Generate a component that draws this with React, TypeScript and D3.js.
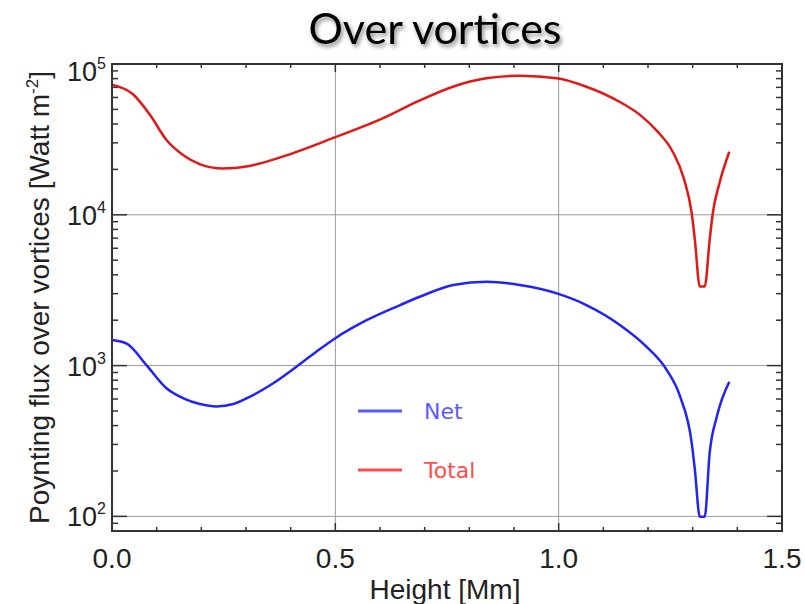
import { useEffect, useRef } from 'react';
import * as d3 from 'd3';

// heights in Mm
const TOTAL_H = [0, 0.047, 0.085, 0.122, 0.159, 0.196, 0.248, 0.308, 0.382, 0.5, 0.606, 0.688, 0.763, 0.838, 0.913, 0.996, 1.062, 1.137, 1.182, 1.22, 1.256, 1.28, 1.298, 1.305, 1.316, 1.327, 1.338, 1.345, 1.36, 1.382];
const TOTAL_V = [7.3e4, 6.3e4, 4.6e4, 3.13e4, 2.49e4, 2.17e4, 2.03e4, 2.11e4, 2.43e4, 3.27e4, 4.36e4, 5.71e4, 7.07e4, 8.04e4, 8.37e4, 8.04e4, 7.07e4, 5.6e4, 4.6e4, 3.6e4, 2.6e4, 1.75e4, 1.02e4, 6.8e3, 3.34e3, 3.34e3, 6.8e3, 1.02e4, 1.62e4, 2.62e4];

const NET_H = [0, 0.033, 0.078, 0.122, 0.16, 0.197, 0.234, 0.272, 0.309, 0.361, 0.413, 0.458, 0.5, 0.57, 0.645, 0.689, 0.764, 0.839, 0.913, 0.996, 1.062, 1.137, 1.197, 1.242, 1.272, 1.298, 1.305, 1.316, 1.327, 1.338, 1.354, 1.382];
const NET_V = [1.48e3, 1.4e3, 1.0e3, 708, 607, 556, 536, 556, 622, 764, 984, 1.24e3, 1.52e3, 2.0e3, 2.52e3, 2.86e3, 3.42e3, 3.6e3, 3.42e3, 3.01e3, 2.52e3, 1.86e3, 1.33e3, 935, 622, 305, 203, 99.5, 99.5, 262, 458, 782];

const X_TICKS = [0, 0.5, 1.0, 1.5];
const X_MINOR = d3.range(0, 1.51, 0.1);
const Y_DECADES = [2, 3, 4, 5];
const LEGEND = [
  { name: 'Net', color: '#5a5aff' },
  { name: 'Total', color: '#ff4d4d' },
];

export default function App() {
  const svgRef = useRef<SVGSVGElement>(null);

  useEffect(() => {
    const svg = d3.select(svgRef.current);
    svg.selectAll('*').remove();

    const left = 112, right = 782, top = 64, bottom = 531;
    const x = d3.scaleLinear().domain([0, 1.5]).range([left, right]);
    const y = d3.scaleLog().domain([80, 1e5]).range([bottom, top]);
    const font = '"Liberation Sans", Arial, sans-serif';

    const defs = svg.append('defs');
    const f = defs.append('filter').attr('id', 'shadow').attr('x', '-10%').attr('y', '-30%').attr('width', '130%').attr('height', '180%');
    f.append('feDropShadow').attr('dx', 2).attr('dy', 3).attr('stdDeviation', 2).attr('flood-color', '#000').attr('flood-opacity', 0.45);

    // title
    svg.append('text')
      .attr('x', 435).attr('y', 44)
      .attr('text-anchor', 'middle')
      .attr('font-family', 'Lato, "Open Sans", sans-serif')
      .attr('font-size', 43)
      .attr('fill', '#000')
      .attr('filter', 'url(#shadow)')
      .text('Over vortices');

    const g = svg.append('g');

    // grid
    [0.5, 1.0].forEach(v => {
      g.append('line').attr('x1', x(v)).attr('x2', x(v)).attr('y1', top).attr('y2', bottom)
        .attr('stroke', '#999').attr('stroke-width', 1);
    });
    Y_DECADES.slice(0, 3).forEach(d => {
      g.append('line').attr('x1', left).attr('x2', right).attr('y1', y(10 ** d)).attr('y2', y(10 ** d))
        .attr('stroke', '#999').attr('stroke-width', 1);
    });

    // ticks
    const tk = g.append('g').attr('stroke', '#333').attr('stroke-width', 1.5);
    X_MINOR.forEach(v => {
      const major = X_TICKS.some(t => Math.abs(t - v) < 1e-6);
      const len = major ? 8 : 4;
      tk.append('line').attr('x1', x(v)).attr('x2', x(v)).attr('y1', bottom).attr('y2', bottom - len);
      tk.append('line').attr('x1', x(v)).attr('x2', x(v)).attr('y1', top).attr('y2', top + len);
    });
    const yTickVals: number[] = [80, 90];
    [2, 3, 4].forEach(d => d3.range(1, 10).forEach(m => yTickVals.push(m * 10 ** d)));
    yTickVals.push(1e5);
    yTickVals.forEach(v => {
      const major = Math.abs(Math.log10(v) - Math.round(Math.log10(v))) < 1e-9;
      const len = major ? 15 : 6;
      tk.append('line').attr('x1', left).attr('x2', left + len).attr('y1', y(v)).attr('y2', y(v));
      tk.append('line').attr('x1', right).attr('x2', right - len).attr('y1', y(v)).attr('y2', y(v));
    });

    // curves
    const line = d3.line<[number, number]>().x(d => x(d[0])).y(d => y(d[1])).curve(d3.curveMonotoneX);
    g.append('path').datum(NET_H.map((h, i) => [h, NET_V[i]] as [number, number]))
      .attr('d', line).attr('fill', 'none').attr('stroke', '#2323f5').attr('stroke-width', 2.5);
    g.append('path').datum(TOTAL_H.map((h, i) => [h, TOTAL_V[i]] as [number, number]))
      .attr('d', line).attr('fill', 'none').attr('stroke', '#e01818').attr('stroke-width', 2.5);

    // frame
    g.append('rect').attr('x', left).attr('y', top).attr('width', right - left).attr('height', bottom - top)
      .attr('fill', 'none').attr('stroke', '#333').attr('stroke-width', 2);

    // x tick labels
    X_TICKS.forEach(v => {
      g.append('text').attr('x', x(v)).attr('y', 568).attr('text-anchor', 'middle')
        .attr('font-family', font).attr('font-size', 28).attr('fill', '#222')
        .text(v.toFixed(1));
    });

    // y tick labels
    Y_DECADES.forEach(d => {
      const cy = d === 5 ? 71 : y(10 ** d);
      const t = g.append('text').attr('x', 106).attr('y', cy + 10).attr('text-anchor', 'end')
        .attr('font-family', font).attr('font-size', 27).attr('fill', '#222');
      t.append('tspan').text('10');
      t.append('tspan').attr('dy', -12).attr('font-size', 16).text(String(d));
    });

    // axis titles
    g.append('text').attr('x', 445).attr('y', 599).attr('text-anchor', 'middle')
      .attr('font-family', font).attr('font-size', 28).attr('fill', '#222')
      .text('Height [Mm]');
    const yl = g.append('text').attr('transform', `translate(49,${(top + bottom) / 2}) rotate(-90)`)
      .attr('text-anchor', 'middle')
      .attr('font-family', font).attr('font-size', 28).attr('fill', '#222');
    yl.append('tspan').text('Poynting flux over vortices [Watt m');
    yl.append('tspan').attr('dy', -11).attr('font-size', 17).text('-2');
    yl.append('tspan').attr('dy', 11).text(']');

    // legend
    LEGEND.forEach((l, i) => {
      const ly = 411 + i * 59;
      g.append('line').attr('x1', 358).attr('x2', 402).attr('y1', ly).attr('y2', ly)
        .attr('stroke', l.color).attr('stroke-width', 3);
      g.append('text').attr('x', 424).attr('y', ly + 8)
        .attr('font-family', '"DejaVu Sans", Verdana, sans-serif').attr('font-size', 22).attr('fill', l.color)
        .text(l.name);
    });
  }, []);

  return (
    <div style={{ position: 'absolute', left: 0, top: 0, background: '#fff' }}>
      <svg ref={svgRef} width={805} height={604} />
    </div>
  );
}
